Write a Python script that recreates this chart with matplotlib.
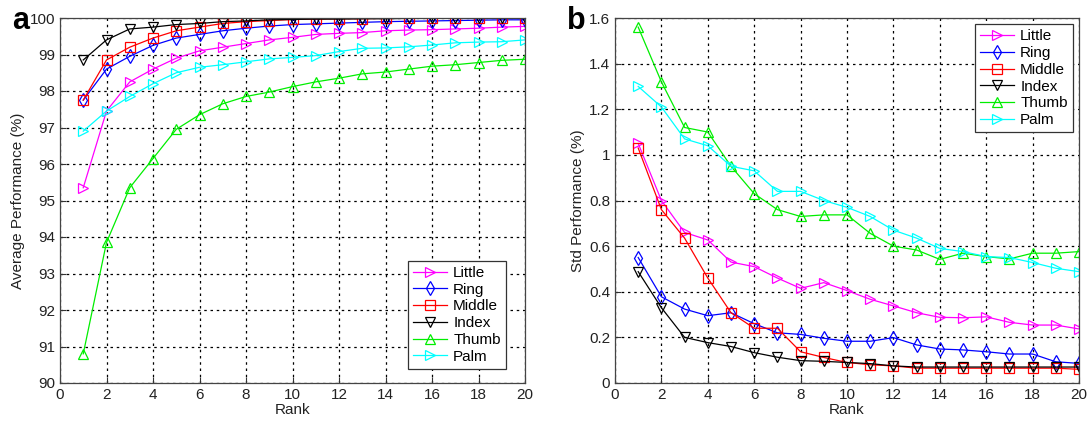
import matplotlib
matplotlib.use("Agg")
import matplotlib.pyplot as plt

plt.rcParams['font.family'] = ['Liberation Sans', 'DejaVu Sans']

ranks = list(range(1, 21))
series_names = ["Little", "Ring", "Middle", "Index", "Thumb", "Palm"]

avg_little = [95.35, 97.45, 98.25, 98.6, 98.9, 99.1, 99.2, 99.3, 99.4, 99.47,
              99.55, 99.58, 99.6, 99.65, 99.67, 99.68, 99.7, 99.72, 99.75, 99.77]
avg_ring = [97.75, 98.6, 98.95, 99.25, 99.45, 99.55, 99.65, 99.72, 99.78, 99.82,
            99.84, 99.86, 99.88, 99.9, 99.91, 99.92, 99.93, 99.94, 99.95, 99.95]
avg_middle = [97.75, 98.85, 99.2, 99.45, 99.65, 99.75, 99.85, 99.9, 99.93, 99.96,
              99.97, 99.98, 99.98, 99.99, 99.99, 99.99, 100.0, 100.0, 100.0, 100.0]
avg_index = [98.85, 99.4, 99.7, 99.75, 99.82, 99.85, 99.9, 99.92, 99.95, 99.96,
             99.97, 99.97, 99.98, 99.98, 99.99, 99.99, 99.99, 100.0, 100.0, 100.0]
avg_thumb = [90.8, 93.85, 95.35, 96.15, 96.95, 97.35, 97.65, 97.85, 97.97, 98.12,
             98.25, 98.35, 98.47, 98.52, 98.6, 98.68, 98.72, 98.78, 98.84, 98.87]
avg_palm = [96.9, 97.45, 97.85, 98.2, 98.5, 98.65, 98.72, 98.8, 98.88, 98.92,
            98.97, 99.08, 99.17, 99.18, 99.21, 99.26, 99.32, 99.34, 99.35, 99.4]

std_little = [1.05, 0.80, 0.66, 0.627, 0.53, 0.51, 0.46, 0.415, 0.44, 0.405,
              0.367, 0.338, 0.308, 0.288, 0.286, 0.29, 0.266, 0.254, 0.254, 0.237]
std_ring = [0.55, 0.378, 0.324, 0.295, 0.308, 0.26, 0.22, 0.213, 0.196, 0.183,
            0.183, 0.199, 0.167, 0.149, 0.145, 0.137, 0.127, 0.127, 0.093, 0.086]
std_middle = [1.03, 0.76, 0.635, 0.46, 0.308, 0.24, 0.24, 0.137, 0.112, 0.09,
              0.08, 0.075, 0.065, 0.065, 0.065, 0.065, 0.065, 0.065, 0.065, 0.06]
std_index = [0.488, 0.33, 0.20, 0.177, 0.16, 0.133, 0.113, 0.098, 0.095, 0.09,
             0.085, 0.075, 0.07, 0.07, 0.07, 0.07, 0.07, 0.07, 0.07, 0.07]
std_thumb = [1.56, 1.32, 1.12, 1.10, 0.95, 0.83, 0.76, 0.73, 0.737, 0.737,
             0.656, 0.60, 0.583, 0.542, 0.569, 0.554, 0.544, 0.569, 0.569, 0.576]
std_palm = [1.30, 1.21, 1.07, 1.04, 0.95, 0.93, 0.84, 0.84, 0.80, 0.77,
            0.73, 0.67, 0.635, 0.59, 0.576, 0.554, 0.55, 0.528, 0.503, 0.488]

colors = ["#ff00ff", "#0000ff", "#ff0000", "#000000", "#00ee00", "#00ffff"]
markers = [">", "d", "s", "v", "^", ">"]

fig = plt.figure(figsize=(10.88, 4.24), dpi=100)
ax1 = fig.add_axes([60/1088, 41/424, 465/1088, 365/424])
ax2 = fig.add_axes([615/1088, 41/424, 464/1088, 365/424])

def draw(ax, data, ylim, yticks, yticklabels, ylabel, legend_loc, anchor):
    for name, vals, c, m in zip(series_names, data, colors, markers):
        ax.plot(ranks, vals, color=c, marker=m, markersize=7, markerfacecolor='none',
                markeredgecolor=c, markeredgewidth=0.9, linewidth=0.9, label=name)
    ax.set_xlim(0, 20)
    ax.set_ylim(*ylim)
    ax.set_xticks(range(0, 21, 2))
    ax.set_yticks(yticks)
    ax.set_yticklabels(yticklabels)
    ax.grid(True, color='black', linestyle=(0, (2, 3)), linewidth=0.9)
    ax.tick_params(direction='in', labelsize=11, colors='#333333', length=4)
    ax.tick_params(axis='both', labelcolor='#222222')
    for sp in ax.spines.values():
        sp.set_color('#444444')
        sp.set_linewidth(0.9)
    ax.set_xlabel("Rank", fontsize=11, color='#222222', labelpad=1)
    ax.set_ylabel(ylabel, fontsize=11, color='#222222', labelpad=3)
    leg = ax.legend(loc=legend_loc, bbox_to_anchor=anchor, fontsize=11,
                    handlelength=2.2, handletextpad=0.4,
                    borderpad=0.35, labelspacing=0.18, fancybox=False, framealpha=1,
                    edgecolor='#333333', borderaxespad=0.0)
    leg.get_frame().set_linewidth(0.9)

draw(ax1, [avg_little, avg_ring, avg_middle, avg_index, avg_thumb, avg_palm],
     (90, 100), range(90, 101), [str(v) for v in range(90, 101)],
     "Average Performance (%)", "lower right", (446/465, 14/365))

std_ticks = [0, 0.2, 0.4, 0.6, 0.8, 1.0, 1.2, 1.4, 1.6]
std_labels = ["0", "0.2", "0.4", "0.6", "0.8", "1", "1.2", "1.4", "1.6"]
draw(ax2, [std_little, std_ring, std_middle, std_index, std_thumb, std_palm],
     (0, 1.6), std_ticks, std_labels, "Std Performance (%)", "upper right",
     (458/464, 359/365))

fig.text(12/1088, 1 - 29/424, "a", fontsize=22, fontweight='bold')
fig.text(567/1088, 1 - 29/424, "b", fontsize=22, fontweight='bold')

fig.savefig("out.png", dpi=100)
